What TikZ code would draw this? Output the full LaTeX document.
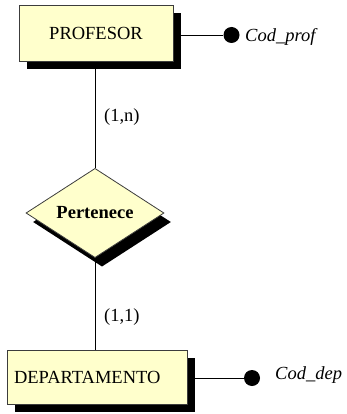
\documentclass[tikz,border=0pt]{standalone}
\usepackage{fontspec}
\setmainfont{Liberation Serif}
\usetikzlibrary{shapes.geometric,shadows,backgrounds}
\definecolor{entfill}{RGB}{255,255,204}
\definecolor{entedge}{RGB}{60,60,60}
\begin{document}
\begin{tikzpicture}[x=1pt,y=-1pt,
  basefont/.style={font=\fontsize{18.5}{21}\selectfont},
  entity/.style={basefont, rectangle, draw=entedge, line width=0.8pt, fill=entfill, inner sep=0pt,
    drop shadow={shadow xshift=8pt, shadow yshift=-8pt, opacity=1, fill=black, draw=none}},
  relation/.style={basefont, diamond, draw=entedge, line width=0.8pt, fill=entfill, inner sep=0pt,
    drop shadow={shadow xshift=7pt, shadow yshift=-9pt, opacity=1, fill=black, draw=none}},
  keydot/.style={circle, fill=black, inner sep=0pt, minimum size=16pt},
  attr/.style={basefont, inner sep=0pt, anchor=west},
  card/.style={basefont, inner sep=0pt, anchor=west},
  link/.style={draw=black, line width=0.8pt}
]
\useasboundingbox (0,0) rectangle (346,414);

% entities and relationship
\node[entity, minimum width=154pt, minimum height=56pt] (prof) at (96,33) {PROFESOR};
\node[entity, minimum height=54pt, text width=166pt, inner xsep=7pt, align=left] (dep) at (97,377) {DEPARTAMENTO};
\node[relation, minimum width=138pt, minimum height=82pt] (rel) at (95,213) {\bfseries Pertenece};

% key attributes
\node[keydot] (kprof) at (231.5,35) {};
\node[attr] (aprof) at (245,37) {\itshape Cod\_prof};
\node[keydot] (kdep) at (252,378) {};
\node[attr] (adep) at (275,375) {\itshape Cod\_dep};

% cardinalities
\node[card] (c1) at (104,117) {(1,n)};
\node[card] (c2) at (104,317) {(1,1)};

% connectors behind the shapes
\begin{scope}[on background layer]
  \draw[link] (rel.north) -- (rel.north |- prof.south);
  \draw[link] (rel.south) -- (rel.south |- dep.north);
  \draw[link] (prof.east |- kprof) -- (kprof);
  \draw[link] (dep.east |- kdep) -- (kdep);
\end{scope}
\end{tikzpicture}
\end{document}
